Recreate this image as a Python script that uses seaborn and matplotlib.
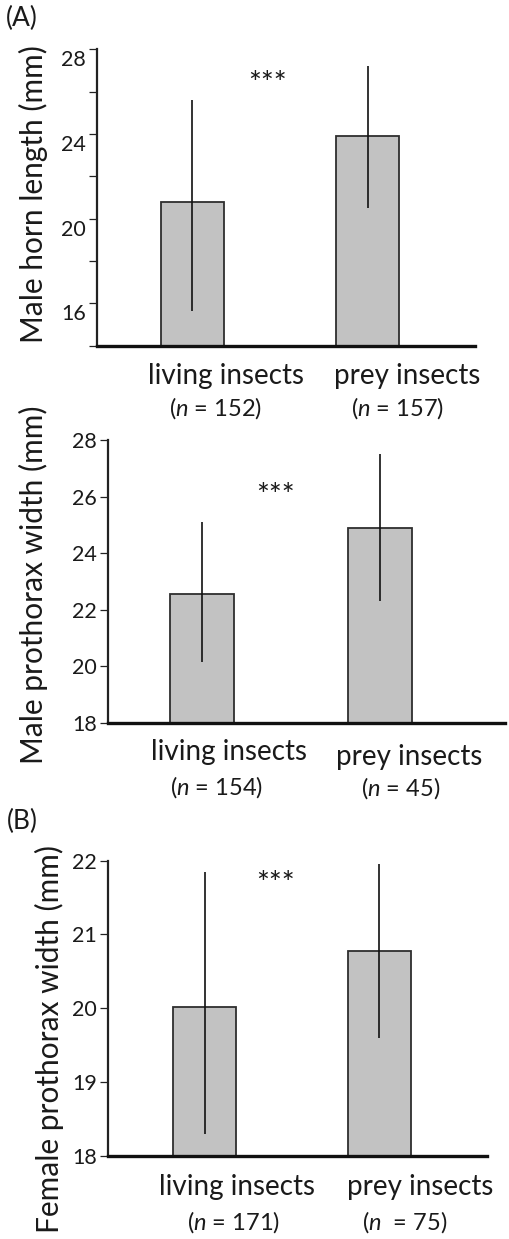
import matplotlib
matplotlib.use("Agg")
import matplotlib.pyplot as plt
import seaborn as sns
import pandas as pd
import numpy as np
from matplotlib.transforms import ScaledTranslation

# ---------------- data ----------------
categories = ["living insects", "prey insects"]

horn_mean = [20.8, 23.9]
horn_low = [15.65, 20.5]
horn_high = [25.6, 27.2]
horn_n = ["152", "157"]

mpw_mean = [22.55, 24.9]
mpw_low = [20.15, 22.3]
mpw_high = [25.1, 27.5]
mpw_n = ["154", "45"]

fpw_mean = [20.02, 20.78]
fpw_low = [18.3, 19.6]
fpw_high = [21.85, 21.95]
fpw_n = ["171", "75"]

horn_ticks = [16, 20, 24, 28]
horn_minor = [14, 18, 22, 26]
mpw_ticks = [18, 20, 22, 24, 26, 28]
fpw_ticks = [18, 19, 20, 21, 22]

# ---------------- style ----------------
sns.set_style("ticks")
plt.rcParams["font.family"] = ["Lato", "DejaVu Sans"]
plt.rcParams["mathtext.fontset"] = "custom"
plt.rcParams["mathtext.rm"] = "Lato"
plt.rcParams["mathtext.it"] = "Lato:italic"
TXT = "#1a1a1a"
BAR = "#c2c2c2"
EDGE = "#2e2e2e"

fig = plt.figure(figsize=(5.1, 12.39), dpi=100)
W, H = 510.0, 1239.0


def rect(left, right, top, bottom):
    return [left / W, 1 - bottom / H, (right - left) / W, (bottom - top) / H]


def panel(r, means, lows, highs, ns, ylabel, ylim, xlim, ticks, minor,
          star_xy, lab_dx, n_dx, lab_dy, n_dy, ylab_xy, nspace=(" ", " "),
          label_shift=0.0):
    ax = fig.add_axes(r)
    df = pd.DataFrame({"cat": categories, "val": means})
    sns.barplot(data=df, x="cat", y="val", ax=ax, color=BAR, width=0.36,
                edgecolor=EDGE, linewidth=1.3, saturation=1, errorbar=None)
    xs = np.array([p.get_x() + p.get_width() / 2 for p in ax.patches])
    m = np.array(means)
    ax.errorbar(xs, m, yerr=[m - np.array(lows), np.array(highs) - m],
                fmt="none", ecolor="#111111", elinewidth=1.2, capsize=0,
                zorder=5)
    ax.set_ylim(*ylim)
    ax.set_xlim(*xlim)
    ax.set_xticks([])
    ax.set_xlabel("")
    ax.set_ylabel("")
    ax.set_yticks(ticks)
    ax.set_yticklabels([str(t) for t in ticks])
    if minor:
        ax.set_yticks(minor, minor=True)
    ax.tick_params(axis="y", which="both", direction="out", length=6,
                   width=0.9, color="#222222", labelsize=15.5,
                   labelcolor=TXT, pad=2)
    if label_shift:
        for lbl in ax.get_yticklabels():
            lbl.set_transform(lbl.get_transform() +
                              ScaledTranslation(0, -label_shift, fig.dpi_scale_trans))
    sns.despine(ax=ax)
    ax.spines["left"].set_linewidth(1.6)
    ax.spines["left"].set_color("#222222")
    ax.spines["bottom"].set_linewidth(2.4)
    ax.spines["bottom"].set_color("#111111")
    ax.spines["bottom"].set_zorder(6)
    # significance
    ax.text(star_xy[0], star_xy[1], "***", ha="center", va="center",
            fontsize=22, color=TXT)
    # category labels
    tr = ax.get_xaxis_transform()
    for i, cat in enumerate(categories):
        ax.annotate(cat, xy=(xs[i] + lab_dx[i], 0), xycoords=tr,
                    xytext=(0, -lab_dy[i]), textcoords="offset pixels",
                    ha="center", va="center", fontsize=20, color=TXT,
                    annotation_clip=False)
        ax.annotate("($\\it{n}$" + nspace[i] + "= " + ns[i] + ")",
                    xy=(xs[i] + n_dx[i], 0), xycoords=tr,
                    xytext=(0, -n_dy[i]), textcoords="offset pixels",
                    ha="center", va="center", fontsize=17, color=TXT,
                    annotation_clip=False)
    fig.text(ylab_xy[0] / W, 1 - ylab_xy[1] / H, ylabel, rotation=90,
             ha="center", va="center", fontsize=21.5, color=TXT)
    return ax


# panel 1: male horn length
panel(rect(96.7, 475, 49.3, 345.7), horn_mean, horn_low, horn_high, horn_n,
      "Male horn length (mm)", (14, 28), (-0.547, 1.614), horn_ticks,
      horn_minor, (0.431, 26.37), (0.19, 0.226), (0.129, 0.169), (30, 30),
      (62, 62), (33, 194), label_shift=0.09)

# panel 2: male prothorax width
panel(rect(108.3, 505, 440, 722.7), mpw_mean, mpw_low, mpw_high, mpw_n,
      "Male prothorax width (mm)", (18, 28), (-0.523, 1.70), mpw_ticks,
      None, (0.416, 26.03), (0.153, 0.163), (0.086, 0.115), (29, 34),
      (64, 65), (33, 585))

# panel 3: female prothorax width
panel(rect(108.3, 487.3, 860.7, 1155.7), fpw_mean, fpw_low, fpw_high, fpw_n,
      "Female prothorax width (mm)", (18, 22), (-0.551, 1.617), fpw_ticks,
      None, (0.408, 21.69), (0.187, 0.232), (0.164, 0.146), (31, 31),
      (66, 66), (49, 1039), nspace=(" ", "  "))

fig.text(22 / W, 1 - 18 / H, "(A)", ha="center", va="center", fontsize=19,
         color=TXT)
fig.text(22 / W, 1 - 821 / H, "(B)", ha="center", va="center", fontsize=19,
         color=TXT)

fig.savefig("out.png", dpi=100)
